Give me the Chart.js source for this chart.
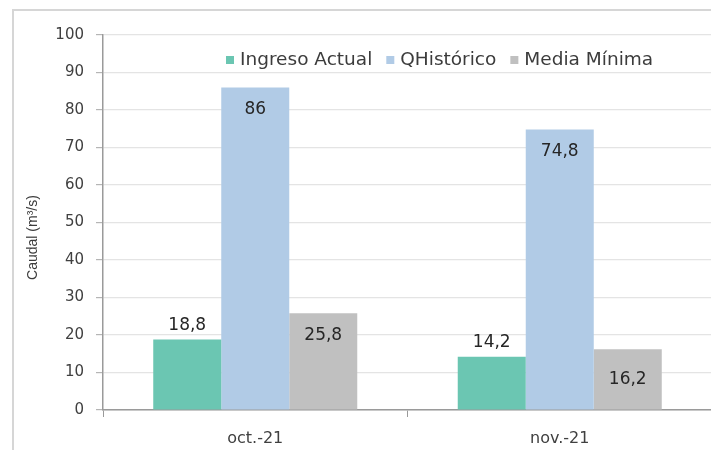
<!DOCTYPE html>
<html>
<head>
<meta charset="utf-8">
<script src="https://cdn.jsdelivr.net/npm/chart.js@4"></script>
<style>
  html, body { margin: 0; padding: 0; background: #fff; overflow: hidden; }
  #wrap { position: relative; width: 711px; height: 450px; overflow: hidden; }
  #frame { position: absolute; left: 12px; top: 9px; width: 760px; height: 500px;
           border-left: 2px solid #d6d6d6; border-top: 2px solid #d6d6d6; }
  canvas { position: absolute; left: 0; top: 0; }
</style>
</head>
<body>
<div id="wrap">
  <div id="frame"></div>
  <canvas id="c" width="730" height="450"></canvas>
</div>
<script>
// Monthly inflow compared with historical flow and minimum average (m³/s)
const categories = ['oct.-21', 'nov.-21'];
const seriesNames = ['Ingreso Actual', 'QHistórico', 'Media Mínima'];
const ingresoActual = [18.8, 14.2];
const qHistorico = [86, 74.8];
const mediaMinima = [25.8, 16.2];
const yTicks = [0, 10, 20, 30, 40, 50, 60, 70, 80, 90, 100];
const yTitle = 'Caudal (m³/s)';

const colors = ['#6bc6b2', '#b1cbe6', '#c0c0c0'];
const FONT = '"DejaVu Sans", Verdana, sans-serif';

// Value labels: where each label sits relative to its bar
const labelAnchors = [['above', 'above'], ['inside', 'inside'], ['inside', 'center']];

const valueLabels = {
  id: 'valueLabels',
  afterDatasetsDraw(chart) {
    const ctx = chart.ctx;
    ctx.save();
    ctx.font = '17px ' + FONT;
    ctx.fillStyle = '#262626';
    ctx.textAlign = 'center';
    ctx.textBaseline = 'middle';
    chart.data.datasets.forEach((ds, di) => {
      const meta = chart.getDatasetMeta(di);
      meta.data.forEach((bar, i) => {
        const v = ds.data[i];
        const txt = String(v).replace('.', ',');
        const a = labelAnchors[di][i];
        let y;
        if (a === 'above') y = bar.y - 14;
        else if (a === 'inside') y = bar.y + 22;
        else y = (bar.y + bar.base) / 2;
        ctx.fillText(txt, bar.x, y);
      });
    });
    ctx.restore();
  }
};

// Legend drawn inside the plot, above the bars
const insideLegend = {
  id: 'insideLegend',
  afterDraw(chart) {
    const ctx = chart.ctx;
    const area = chart.chartArea;
    ctx.save();
    ctx.font = '18.5px ' + FONT;
    ctx.textBaseline = 'middle';
    let x = area.left + 123;
    const y = area.top + 25;
    chart.data.datasets.forEach((ds) => {
      ctx.fillStyle = ds.backgroundColor;
      ctx.fillRect(x, y - 4, 8, 8);
      x += 14;
      ctx.fillStyle = '#3c3c3c';
      ctx.textAlign = 'left';
      ctx.fillText(ds.label, x, y);
      x += ctx.measureText(ds.label).width + 14;
    });
    ctx.restore();
  }
};

// Rotated y-axis title, set a little below the middle of the axis
const axisTitle = {
  id: 'axisTitle',
  afterDraw(chart) {
    const ctx = chart.ctx;
    const area = chart.chartArea;
    ctx.save();
    ctx.translate(33, area.top + (area.bottom - area.top) * 0.54);
    ctx.rotate(-Math.PI / 2);
    ctx.font = '14px "Liberation Sans", Arial, sans-serif';
    ctx.fillStyle = '#3c3c3c';
    ctx.textAlign = 'center';
    ctx.textBaseline = 'middle';
    ctx.fillText(yTitle, 0, 0);
    ctx.restore();
  }
};

new Chart(document.getElementById('c'), {
  type: 'bar',
  data: {
    labels: categories,
    datasets: [
      { label: seriesNames[0], data: ingresoActual, backgroundColor: colors[0] },
      { label: seriesNames[1], data: qHistorico, backgroundColor: colors[1] },
      { label: seriesNames[2], data: mediaMinima, backgroundColor: colors[2] }
    ]
  },
  options: {
    responsive: false,
    animation: false,
    devicePixelRatio: 1,
    layout: { padding: { left: 20, top: 35, right: 18, bottom: 0 } },
    datasets: { bar: { barPercentage: 1.0, categoryPercentage: 0.67 } },
    plugins: { legend: { display: false }, tooltip: { enabled: false } },
    scales: {
      x: {
        afterFit(s) { s.height = 40; },
        grid: { display: true, drawOnChartArea: false, drawTicks: true, tickLength: 7,
                offset: true, color: '#9a9a9a', tickColor: '#9a9a9a' },
        border: { display: true, color: '#9a9a9a', width: 1.5 },
        ticks: { color: '#404040', font: { family: FONT, size: 16 }, padding: 12 }
      },
      y: {
        min: 0, max: 100,
        afterFit(s) { s.width = 83; },
        afterBuildTicks(s) { s.ticks = yTicks.map(v => ({ value: v })); },
        grid: { color: '#e4e4e4', lineWidth: 1.2, tickLength: 7, tickColor: '#b5b5b5' },
        border: { display: true, color: '#9a9a9a', width: 1.5 },
        ticks: { color: '#404040', font: { family: FONT, size: 15 }, padding: 12 }
      }
    }
  },
  plugins: [valueLabels, insideLegend, axisTitle]
});
</script>
</body>
</html>
